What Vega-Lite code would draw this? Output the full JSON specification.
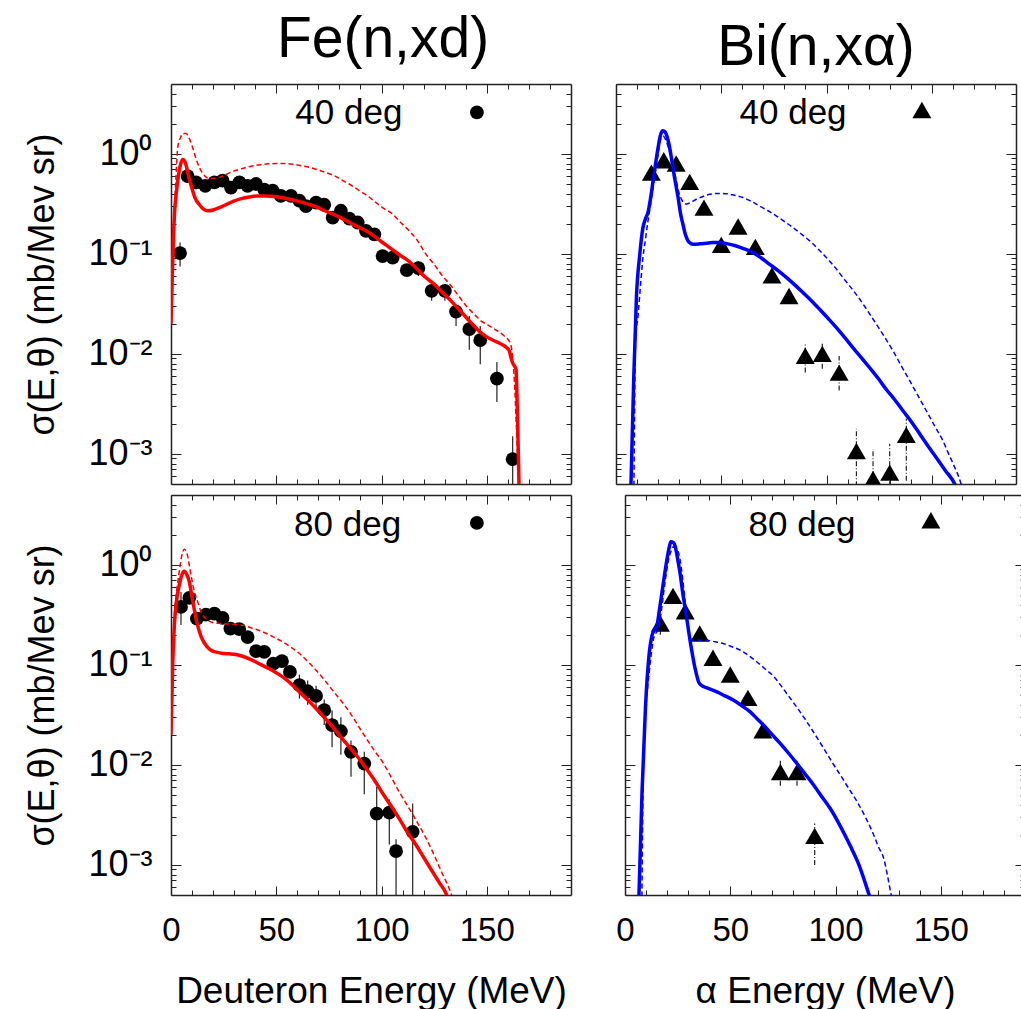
{
 "$schema": "https://vega.github.io/schema/vega-lite/v6.json",
 "padding": {"left": 24, "top": 10, "right": 0, "bottom": 0},
 "background": "white",
 "config": {
  "font": "Liberation Sans",
  "view": {"stroke": null},
  "axis": {"grid": false, "domainColor": "#222", "domainWidth": 1.5, "tickColor": "#222", "tickWidth": 1, "labelColor": "#000", "titleColor": "#000", "labelFont": "Liberation Sans", "titleFont": "Liberation Sans", "titleFontWeight": "normal", "labelOverlap": false, "labelFlush": false}
 },
 "datasets": {
  "keys": [
   {"p": "fe40", "t": "40 deg", "E": 84.5, "v": 2.57, "mE": 145.3, "mv": 2.6},
   {"p": "bi40", "t": "40 deg", "E": 84.1, "v": 2.57, "mE": 145.3, "mv": 2.75},
   {"p": "fe80", "t": "80 deg", "E": 83.9, "v": 2.51, "mE": 145.3, "mv": 2.63},
   {"p": "bi80", "t": "80 deg", "E": 84.1, "v": 2.51, "mE": 145.3, "mv": 2.8}
  ],
  "fe40s": [
   {"E":0,"v":0.02},{"E":0.6,"v":0.06},{"E":1.2,"v":0.15},{"E":1.8,"v":0.28},{"E":2.6,"v":0.42},{"E":3.5,"v":0.6},{"E":4.5,"v":0.78},{"E":5.5,"v":0.88},{"E":6.5,"v":0.85},{"E":7.5,"v":0.72},{"E":8.5,"v":0.58},{"E":10,"v":0.45},{"E":11.5,"v":0.36},{"E":13.5,"v":0.31},{"E":15.5,"v":0.28},{"E":17.5,"v":0.27},{"E":20,"v":0.275},{"E":23,"v":0.29},{"E":26,"v":0.31},{"E":29.5,"v":0.335},{"E":33,"v":0.355},{"E":37,"v":0.37},{"E":41,"v":0.38},{"E":45,"v":0.38},{"E":49,"v":0.375},{"E":53,"v":0.365},{"E":57,"v":0.35},{"E":61,"v":0.333},{"E":65,"v":0.315},{"E":69,"v":0.295},{"E":73,"v":0.27},{"E":77,"v":0.25},{"E":81,"v":0.228},{"E":85,"v":0.205},{"E":89,"v":0.186},{"E":93,"v":0.168},{"E":97,"v":0.148},{"E":100.5,"v":0.13},{"E":104.5,"v":0.113},{"E":108.5,"v":0.098},{"E":112.5,"v":0.086},{"E":116.5,"v":0.072},{"E":121,"v":0.058},{"E":125,"v":0.0499},{"E":129,"v":0.041},{"E":133,"v":0.0339},{"E":137,"v":0.0275},{"E":141,"v":0.0222},{"E":144,"v":0.019},{"E":147.2,"v":0.0163},{"E":150,"v":0.0148},{"E":152,"v":0.014},{"E":155,"v":0.0131},{"E":157.6,"v":0.0123},{"E":159.5,"v":0.0115},{"E":160.7,"v":0.0107},{"E":161.5,"v":0.0092},{"E":162.2,"v":0.0082},{"E":163.9,"v":0.007},{"E":164.3,"v":0.004},{"E":164.8,"v":0.0015},{"E":165.4,"v":0.0004}
  ],
  "fe40d": [
   {"E":0,"v":0.02},{"E":0.8,"v":0.08},{"E":1.6,"v":0.25},{"E":2.4,"v":0.6},{"E":3.2,"v":1.16},{"E":4.5,"v":1.45},{"E":5.8,"v":1.6},{"E":7.1,"v":1.6},{"E":8.5,"v":1.45},{"E":10.3,"v":1.15},{"E":12,"v":0.88},{"E":13.5,"v":0.73},{"E":15.5,"v":0.62},{"E":18,"v":0.57},{"E":21,"v":0.57},{"E":24.5,"v":0.6},{"E":28,"v":0.65},{"E":32.4,"v":0.7},{"E":37,"v":0.745},{"E":42,"v":0.776},{"E":46,"v":0.795},{"E":50,"v":0.8},{"E":54,"v":0.8},{"E":58,"v":0.79},{"E":62,"v":0.76},{"E":66,"v":0.73},{"E":70,"v":0.69},{"E":74,"v":0.645},{"E":78,"v":0.6},{"E":82,"v":0.535},{"E":86,"v":0.48},{"E":89.5,"v":0.43},{"E":93.4,"v":0.38},{"E":97.4,"v":0.326},{"E":101,"v":0.285},{"E":105.3,"v":0.25},{"E":109.2,"v":0.205},{"E":113.2,"v":0.17},{"E":117.2,"v":0.135},{"E":121,"v":0.1},{"E":125.1,"v":0.078},{"E":129,"v":0.06},{"E":133,"v":0.048},{"E":137,"v":0.037},{"E":140.9,"v":0.029},{"E":144,"v":0.025},{"E":147.2,"v":0.0214},{"E":150.5,"v":0.0195},{"E":153.6,"v":0.0177},{"E":156,"v":0.0165},{"E":158.3,"v":0.0151},{"E":160,"v":0.014},{"E":161.5,"v":0.0123},{"E":162.3,"v":0.009},{"E":163.1,"v":0.0054},{"E":164,"v":0.002},{"E":165,"v":0.0006},{"E":165.7,"v":0.0003}
  ],
  "fe40x": [
   {"E":4.3,"v":0.102,"lo":0.075,"hi":0.13},{"E":7.9,"v":0.6},{"E":11.9,"v":0.52},{"E":16.3,"v":0.48},{"E":20.6,"v":0.52},{"E":24.5,"v":0.54},{"E":28.5,"v":0.46},{"E":32.5,"v":0.52},{"E":36.4,"v":0.48},{"E":40.4,"v":0.5},{"E":44.3,"v":0.44},{"E":48.3,"v":0.43},{"E":52.2,"v":0.38},{"E":57,"v":0.38},{"E":61,"v":0.34},{"E":64.1,"v":0.3},{"E":68.9,"v":0.325},{"E":72.8,"v":0.31},{"E":76.8,"v":0.23},{"E":80.7,"v":0.27},{"E":84.7,"v":0.225},{"E":88.7,"v":0.206},{"E":92.6,"v":0.17},{"E":96.6,"v":0.157},{"E":100.5,"v":0.095},{"E":105.3,"v":0.092},{"E":112,"v":0.0687},{"E":117.5,"v":0.072,"lo":0.06,"hi":0.085},{"E":123.8,"v":0.0427,"lo":0.034,"hi":0.05},{"E":130.1,"v":0.0427,"lo":0.034,"hi":0.05},{"E":135.4,"v":0.0265,"lo":0.019,"hi":0.031},{"E":141.7,"v":0.0177,"lo":0.011,"hi":0.024},{"E":146.9,"v":0.0137,"lo":0.0079,"hi":0.019},{"E":154.8,"v":0.00566,"lo":0.0033,"hi":0.0083},{"E":162.3,"v":0.000885,"lo":0.0003,"hi":0.0015}
  ],
  "bi40s": [
   {"E":7,"v":0.0004},{"E":8.4,"v":0.0054},{"E":9.7,"v":0.037},{"E":11.3,"v":0.099},{"E":12.8,"v":0.183},{"E":14,"v":0.225},{"E":15.2,"v":0.26},{"E":16.5,"v":0.37},{"E":17.6,"v":0.537},{"E":18.8,"v":0.8},{"E":20,"v":1.157},{"E":21,"v":1.5},{"E":22,"v":1.7},{"E":23,"v":1.68},{"E":23.9,"v":1.57},{"E":25,"v":1.3},{"E":26.3,"v":0.918},{"E":27.8,"v":0.58},{"E":29.5,"v":0.366},{"E":30.7,"v":0.25},{"E":31.8,"v":0.198},{"E":33,"v":0.155},{"E":34.2,"v":0.135},{"E":35.5,"v":0.127},{"E":36.6,"v":0.125},{"E":39.7,"v":0.126},{"E":42.9,"v":0.128},{"E":46,"v":0.13},{"E":49.3,"v":0.13},{"E":53,"v":0.126},{"E":57.1,"v":0.12},{"E":61,"v":0.112},{"E":65.1,"v":0.103},{"E":69,"v":0.091},{"E":73,"v":0.0787},{"E":77,"v":0.068},{"E":80.9,"v":0.0582},{"E":84.9,"v":0.049},{"E":88.8,"v":0.041},{"E":92.8,"v":0.034},{"E":96.8,"v":0.0278},{"E":100.7,"v":0.0227},{"E":104.6,"v":0.0184},{"E":108.6,"v":0.0146},{"E":112.6,"v":0.0115},{"E":116.5,"v":0.0092},{"E":120.5,"v":0.00727},{"E":124.5,"v":0.0057},{"E":128.4,"v":0.0044},{"E":132.3,"v":0.0035},{"E":136.3,"v":0.0027},{"E":140.3,"v":0.0021},{"E":144.3,"v":0.00158},{"E":148.2,"v":0.0012},{"E":152.1,"v":0.00092},{"E":156.5,"v":0.00068},{"E":160.9,"v":0.0005},{"E":162,"v":0.00044}
  ],
  "bi40d": [
   {"E":8.5,"v":0.0004},{"E":9.3,"v":0.0135},{"E":10.5,"v":0.0247},{"E":11.7,"v":0.05},{"E":12.8,"v":0.092},{"E":14,"v":0.14},{"E":15.2,"v":0.214},{"E":16.4,"v":0.31},{"E":17.6,"v":0.46},{"E":18.8,"v":0.68},{"E":20,"v":0.99},{"E":21.5,"v":1.455},{"E":22.5,"v":1.5},{"E":23.8,"v":1.35},{"E":25.5,"v":1.05},{"E":27.1,"v":0.79},{"E":28.5,"v":0.56},{"E":29.9,"v":0.41},{"E":31.5,"v":0.34},{"E":33.4,"v":0.315},{"E":35.8,"v":0.33},{"E":38.2,"v":0.352},{"E":41.3,"v":0.375},{"E":44.5,"v":0.395},{"E":48.5,"v":0.402},{"E":52.4,"v":0.4},{"E":56.3,"v":0.385},{"E":60.3,"v":0.366},{"E":64.3,"v":0.335},{"E":68.3,"v":0.3},{"E":72.2,"v":0.27},{"E":76.1,"v":0.24},{"E":80.1,"v":0.21},{"E":84.1,"v":0.183},{"E":88,"v":0.158},{"E":92,"v":0.135},{"E":96,"v":0.112},{"E":99.9,"v":0.092},{"E":103.9,"v":0.074},{"E":107.8,"v":0.058},{"E":111.8,"v":0.0455},{"E":115.8,"v":0.0352},{"E":119.7,"v":0.0266},{"E":123.6,"v":0.0199},{"E":127.6,"v":0.0147},{"E":131.6,"v":0.0107},{"E":135.5,"v":0.0076},{"E":139.5,"v":0.0054},{"E":143.5,"v":0.0038},{"E":147.4,"v":0.0027},{"E":151.4,"v":0.0019},{"E":155.3,"v":0.00135},{"E":158,"v":0.001},{"E":160.1,"v":0.0008},{"E":163.9,"v":0.0005},{"E":164.5,"v":0.00045}
  ],
  "bi40x": [
   {"E":16.8,"v":0.65},{"E":22.7,"v":0.865},{"E":28.6,"v":0.8},{"E":35,"v":0.525},{"E":41.8,"v":0.29},{"E":50,"v":0.123},{"E":58,"v":0.188},{"E":66.2,"v":0.1175},{"E":74.1,"v":0.061},{"E":82.2,"v":0.038},{"E":89.9,"v":0.0096,"lo":0.0065,"hi":0.013},{"E":98,"v":0.01,"lo":0.0071,"hi":0.013},{"E":106,"v":0.0065,"lo":0.0043,"hi":0.0095},{"E":114.2,"v":0.00107,"lo":0.0003,"hi":0.00178},{"E":122.1,"v":0.00056,"lo":0.0003,"hi":0.00112},{"E":130,"v":0.00065,"lo":0.0003,"hi":0.00126},{"E":137.9,"v":0.00155,"lo":0.00054,"hi":0.00224}
  ],
  "fe80s": [
   {"E":0,"v":0.02},{"E":0.8,"v":0.1},{"E":1.6,"v":0.249},{"E":2.7,"v":0.45},{"E":3.9,"v":0.626},{"E":5,"v":0.78},{"E":6.3,"v":0.865},{"E":7.5,"v":0.8},{"E":8.7,"v":0.676},{"E":10.2,"v":0.45},{"E":11.9,"v":0.29},{"E":13.5,"v":0.215},{"E":15.1,"v":0.176},{"E":17,"v":0.153},{"E":19,"v":0.14},{"E":21.5,"v":0.134},{"E":24.6,"v":0.13},{"E":27.8,"v":0.129},{"E":30.9,"v":0.127},{"E":34,"v":0.122},{"E":37.2,"v":0.115},{"E":41,"v":0.105},{"E":45.1,"v":0.095},{"E":49,"v":0.086},{"E":53,"v":0.0759},{"E":57,"v":0.065},{"E":61,"v":0.0537},{"E":65,"v":0.0445},{"E":68.9,"v":0.0366},{"E":72.8,"v":0.0298},{"E":76.8,"v":0.024},{"E":80.7,"v":0.019},{"E":84.7,"v":0.0151},{"E":88.7,"v":0.012},{"E":92.6,"v":0.0093},{"E":96.5,"v":0.0071},{"E":100.5,"v":0.0052},{"E":104.5,"v":0.0039},{"E":108.4,"v":0.0029},{"E":112.4,"v":0.0021},{"E":116.4,"v":0.00158},{"E":120.3,"v":0.00116},{"E":124.3,"v":0.00085},{"E":127.5,"v":0.00066},{"E":130.6,"v":0.00052},{"E":131.5,"v":0.00046}
  ],
  "fe80d": [
   {"E":0,"v":0.02},{"E":0.8,"v":0.12},{"E":1.6,"v":0.3},{"E":2.7,"v":0.55},{"E":3.9,"v":0.85},{"E":5,"v":1.2},{"E":6.3,"v":1.435},{"E":7.6,"v":1.3},{"E":9.5,"v":0.789},{"E":11,"v":0.55},{"E":12.7,"v":0.427},{"E":14.5,"v":0.33},{"E":16.6,"v":0.29},{"E":20,"v":0.265},{"E":24.5,"v":0.259},{"E":29,"v":0.255},{"E":34,"v":0.249},{"E":38.8,"v":0.232},{"E":43.6,"v":0.214},{"E":48.3,"v":0.192},{"E":53,"v":0.17},{"E":57,"v":0.15},{"E":61,"v":0.13},{"E":65,"v":0.108},{"E":68.9,"v":0.0886},{"E":72.8,"v":0.071},{"E":76.8,"v":0.0556},{"E":80.7,"v":0.044},{"E":84.7,"v":0.034},{"E":88.7,"v":0.025},{"E":92.6,"v":0.0186},{"E":96.5,"v":0.014},{"E":100.5,"v":0.0107},{"E":104.5,"v":0.0076},{"E":108.4,"v":0.00537},{"E":112.4,"v":0.0039},{"E":116.4,"v":0.0028},{"E":120.3,"v":0.002},{"E":124.3,"v":0.00135},{"E":128.5,"v":0.00085},{"E":133,"v":0.00052},{"E":134,"v":0.00045}
  ],
  "fe80x": [
   {"E":4.75,"v":0.38,"lo":0.25,"hi":0.537},{"E":8.7,"v":0.468},{"E":12.3,"v":0.29},{"E":16.6,"v":0.319},{"E":20.6,"v":0.326},{"E":24.5,"v":0.295},{"E":28.2,"v":0.231},{"E":32.4,"v":0.228},{"E":36.4,"v":0.19},{"E":40.4,"v":0.137},{"E":44.3,"v":0.135},{"E":48.6,"v":0.103},{"E":52.7,"v":0.109},{"E":56.5,"v":0.0851},{"E":61,"v":0.0626,"lo":0.046,"hi":0.08},{"E":64.9,"v":0.0545,"lo":0.04,"hi":0.07},{"E":68.9,"v":0.049,"lo":0.037,"hi":0.062},{"E":72.8,"v":0.0352,"lo":0.025,"hi":0.045},{"E":76.5,"v":0.025,"lo":0.015,"hi":0.035},{"E":80.7,"v":0.0217,"lo":0.0126,"hi":0.03},{"E":85.5,"v":0.0135,"lo":0.0076,"hi":0.0175},{"E":91.8,"v":0.0103,"lo":0.0051,"hi":0.0135},{"E":97.7,"v":0.00326,"lo":0.0003,"hi":0.006},{"E":103.7,"v":0.00333,"lo":0.0016,"hi":0.0045},{"E":106.9,"v":0.00137,"lo":0.0003,"hi":0.0018},{"E":114.8,"v":0.00214,"lo":0.0003,"hi":0.0041}
  ],
  "bi80s": [
   {"E":6.5,"v":0.0004},{"E":8.1,"v":0.0054},{"E":9.7,"v":0.0367},{"E":11.3,"v":0.118},{"E":12.8,"v":0.196},{"E":14,"v":0.225},{"E":15.2,"v":0.249},{"E":16.4,"v":0.36},{"E":17.6,"v":0.537},{"E":18.8,"v":0.8},{"E":20,"v":1.157},{"E":21,"v":1.5},{"E":21.8,"v":1.7},{"E":22.9,"v":1.68},{"E":23.9,"v":1.51},{"E":25,"v":1.15},{"E":26.3,"v":0.789},{"E":27.4,"v":0.53},{"E":28.6,"v":0.366},{"E":29.8,"v":0.25},{"E":31,"v":0.17},{"E":32.3,"v":0.118},{"E":33.4,"v":0.09},{"E":35,"v":0.0673},{"E":36.5,"v":0.062},{"E":38.9,"v":0.0589},{"E":43.7,"v":0.0537},{"E":47.5,"v":0.049},{"E":51.6,"v":0.0443},{"E":55.5,"v":0.039},{"E":59.5,"v":0.0339},{"E":62.7,"v":0.029},{"E":65.9,"v":0.0249},{"E":69.8,"v":0.0202},{"E":73.8,"v":0.0163},{"E":77.8,"v":0.013},{"E":81.7,"v":0.0103},{"E":85.6,"v":0.0081},{"E":89.6,"v":0.0063},{"E":93.5,"v":0.0048},{"E":97.5,"v":0.00366},{"E":102,"v":0.0025},{"E":107,"v":0.00155},{"E":111.3,"v":0.00098},{"E":115.7,"v":0.00052},{"E":116.5,"v":0.00046}
  ],
  "bi80d": [
   {"E":8,"v":0.0004},{"E":8.9,"v":0.0152},{"E":10,"v":0.04},{"E":11.3,"v":0.0768},{"E":12.5,"v":0.13},{"E":13.6,"v":0.184},{"E":14.8,"v":0.21},{"E":16,"v":0.23},{"E":17.2,"v":0.34},{"E":18.4,"v":0.537},{"E":19.6,"v":0.82},{"E":20.8,"v":1.157},{"E":22,"v":1.4},{"E":22.8,"v":1.51},{"E":24,"v":1.48},{"E":25.5,"v":1.3},{"E":26.7,"v":0.95},{"E":27.9,"v":0.58},{"E":29.1,"v":0.33},{"E":30.3,"v":0.214},{"E":31.8,"v":0.176},{"E":35,"v":0.176},{"E":38.9,"v":0.176},{"E":42.9,"v":0.17},{"E":46.9,"v":0.163},{"E":50.8,"v":0.152},{"E":54.8,"v":0.14},{"E":58.8,"v":0.124},{"E":62.7,"v":0.107},{"E":66.6,"v":0.091},{"E":70.6,"v":0.0768},{"E":74.6,"v":0.06},{"E":78.5,"v":0.0464},{"E":82.5,"v":0.0355},{"E":86.4,"v":0.0269},{"E":90.4,"v":0.0199},{"E":94.4,"v":0.0146},{"E":98.3,"v":0.0107},{"E":102.3,"v":0.0079},{"E":106.3,"v":0.0058},{"E":110.2,"v":0.0043},{"E":114.2,"v":0.003},{"E":118.1,"v":0.002},{"E":120.5,"v":0.0015},{"E":122.9,"v":0.00116},{"E":124.6,"v":0.0008},{"E":126.3,"v":0.00052},{"E":127,"v":0.00045}
  ],
  "bi80x": [
   {"E":16.8,"v":0.259,"lo":0.2,"hi":0.32},{"E":22.8,"v":0.49},{"E":28.6,"v":0.344},{"E":35.5,"v":0.206},{"E":41.8,"v":0.118},{"E":50,"v":0.08},{"E":58.4,"v":0.0468},{"E":65.5,"v":0.0222},{"E":73.8,"v":0.0085,"lo":0.0062,"hi":0.011},{"E":81.7,"v":0.0085,"lo":0.0062,"hi":0.011},{"E":90.1,"v":0.00195,"lo":0.001,"hi":0.0026}
  ]
 },
 "spacing": -12,
 "vconcat": [
  {"spacing": 43, "hconcat": [
   {"width": 400, "height": 400,
    "title": {"text": "Fe(n,xd)", "fontSize": 57, "fontWeight": "normal", "font": "Liberation Sans", "anchor": "middle", "baseline": "alphabetic", "offset": -38, "dx": 12, "color": "#000"},
    "layer": [
     {"data": {"name": "fe40x"}, "transform": [{"filter": "isValid(datum.lo)"}],
      "mark": {"type": "rule", "color": "#222", "strokeWidth": 1.2, "clip": true},
      "encoding": {
       "x": {"field": "E", "type": "quantitative", "scale": {"domain": [0, 190], "nice": false, "zero": false},
        "axis": {"orient": "bottom", "values": [0,10,20,30,40,50,60,70,80,90,100,110,120,130,140,150,160,170,180], "tickSize": {"condition": {"test": "datum.value % 50 == 0", "value": -9}, "value": -5}, "labels": false, "title": null}},
       "y": {"field": "lo", "type": "quantitative", "scale": {"type": "log", "domain": [0.0005, 5], "nice": false},
        "axis": {"orient": "left", "values": [0.0006,0.0007,0.0008,0.0009,0.001,0.002,0.003,0.004,0.005,0.006,0.007,0.008,0.009,0.01,0.02,0.03,0.04,0.05,0.06,0.07,0.08,0.09,0.1,0.2,0.3,0.4,0.5,0.6,0.7,0.8,0.9,1,2,3,4], "tickSize": {"condition": {"test": "abs(log(datum.value)/LN10 - round(log(datum.value)/LN10)) < 0.001", "value": -10}, "value": -5}, "labelExpr": "datum.value == 1 ? '10⁰' : datum.value == 0.1 ? '10⁻¹' : datum.value == 0.01 ? '10⁻²' : datum.value == 0.001 ? '10⁻³' : ''", "labelFontSize": 36, "labelPadding": 29, "title": "σ(E,θ) (mb/Mev sr)", "titleFontSize": 36, "titlePadding": 26}},
       "y2": {"field": "hi"}}},
     {"data": {"name": "fe40x"},
      "mark": {"type": "point", "shape": "circle", "filled": true, "color": "#000", "opacity": 1, "size": 190, "clip": true},
      "encoding": {
       "x": {"field": "E", "type": "quantitative", "scale": {"domain": [0, 190], "nice": false, "zero": false},
        "axis": {"orient": "top", "values": [0,10,20,30,40,50,60,70,80,90,100,110,120,130,140,150,160,170,180], "tickSize": {"condition": {"test": "datum.value % 50 == 0", "value": -9}, "value": -5}, "labels": false, "title": null}},
       "y": {"field": "v", "type": "quantitative", "scale": {"type": "log", "domain": [0.0005, 5], "nice": false},
        "axis": {"orient": "right", "values": [0.0006,0.0007,0.0008,0.0009,0.001,0.002,0.003,0.004,0.005,0.006,0.007,0.008,0.009,0.01,0.02,0.03,0.04,0.05,0.06,0.07,0.08,0.09,0.1,0.2,0.3,0.4,0.5,0.6,0.7,0.8,0.9,1,2,3,4], "tickSize": {"condition": {"test": "abs(log(datum.value)/LN10 - round(log(datum.value)/LN10)) < 0.001", "value": -10}, "value": -5}, "labels": false, "title": null}}}},
     {"data": {"name": "fe40d"},
      "mark": {"type": "line", "color": "#ff0000", "strokeWidth": 1.5, "strokeDash": [5, 3], "clip": true, "interpolate": "monotone"},
      "encoding": {
       "x": {"field": "E", "type": "quantitative", "scale": {"domain": [0, 190], "nice": false, "zero": false}, "axis": null},
       "y": {"field": "v", "type": "quantitative", "scale": {"type": "log", "domain": [0.0005, 5], "nice": false}, "axis": null}}},
     {"data": {"name": "fe40s"},
      "mark": {"type": "line", "color": "#ff0000", "strokeWidth": 3.5, "clip": true, "interpolate": "monotone"},
      "encoding": {
       "x": {"field": "E", "type": "quantitative", "scale": {"domain": [0, 190], "nice": false, "zero": false}, "axis": null},
       "y": {"field": "v", "type": "quantitative", "scale": {"type": "log", "domain": [0.0005, 5], "nice": false}, "axis": null}}},
     {"data": {"name": "keys"}, "transform": [{"filter": "datum.p == 'fe40'"}],
      "mark": {"type": "text", "fontSize": 35, "align": "center", "baseline": "middle", "color": "#000"},
      "encoding": {
       "x": {"field": "E", "type": "quantitative", "scale": {"domain": [0, 190], "nice": false, "zero": false}, "axis": null},
       "y": {"field": "v", "type": "quantitative", "scale": {"type": "log", "domain": [0.0005, 5], "nice": false}, "axis": null},
       "text": {"field": "t"}}},
     {"data": {"name": "keys"}, "transform": [{"filter": "datum.p == 'fe40'"}],
      "mark": {"type": "point", "shape": "circle", "filled": true, "color": "#000", "opacity": 1, "size": 190},
      "encoding": {
       "x": {"field": "mE", "type": "quantitative", "scale": {"domain": [0, 190], "nice": false, "zero": false}, "axis": null},
       "y": {"field": "mv", "type": "quantitative", "scale": {"type": "log", "domain": [0.0005, 5], "nice": false}, "axis": null}}}
    ],
    "resolve": {"axis": {"x": "independent", "y": "independent"}}
   },
   {"width": 400, "height": 400,
    "title": {"text": "Bi(n,xα)", "fontSize": 57, "fontWeight": "normal", "font": "Liberation Sans", "anchor": "middle", "baseline": "alphabetic", "offset": -38, "dx": 0, "color": "#000"},
    "layer": [
     {"data": {"name": "bi40x"}, "transform": [{"filter": "isValid(datum.lo)"}],
      "mark": {"type": "rule", "color": "#222", "strokeWidth": 1.2, "strokeDash": [5, 2, 1, 2], "clip": true},
      "encoding": {
       "x": {"field": "E", "type": "quantitative", "scale": {"domain": [0, 190], "nice": false, "zero": false},
        "axis": {"orient": "bottom", "values": [0,10,20,30,40,50,60,70,80,90,100,110,120,130,140,150,160,170,180], "tickSize": {"condition": {"test": "datum.value % 50 == 0", "value": -9}, "value": -5}, "labels": false, "title": null}},
       "y": {"field": "lo", "type": "quantitative", "scale": {"type": "log", "domain": [0.0005, 5], "nice": false},
        "axis": {"orient": "left", "values": [0.0006,0.0007,0.0008,0.0009,0.001,0.002,0.003,0.004,0.005,0.006,0.007,0.008,0.009,0.01,0.02,0.03,0.04,0.05,0.06,0.07,0.08,0.09,0.1,0.2,0.3,0.4,0.5,0.6,0.7,0.8,0.9,1,2,3,4], "tickSize": {"condition": {"test": "abs(log(datum.value)/LN10 - round(log(datum.value)/LN10)) < 0.001", "value": -10}, "value": -5}, "labels": false, "title": null}},
       "y2": {"field": "hi"}}},
     {"data": {"name": "bi40x"},
      "mark": {"type": "point", "shape": "triangle-up", "filled": true, "color": "#000", "opacity": 1, "size": 360, "clip": true},
      "encoding": {
       "x": {"field": "E", "type": "quantitative", "scale": {"domain": [0, 190], "nice": false, "zero": false},
        "axis": {"orient": "top", "values": [0,10,20,30,40,50,60,70,80,90,100,110,120,130,140,150,160,170,180], "tickSize": {"condition": {"test": "datum.value % 50 == 0", "value": -9}, "value": -5}, "labels": false, "title": null}},
       "y": {"field": "v", "type": "quantitative", "scale": {"type": "log", "domain": [0.0005, 5], "nice": false},
        "axis": {"orient": "right", "values": [0.0006,0.0007,0.0008,0.0009,0.001,0.002,0.003,0.004,0.005,0.006,0.007,0.008,0.009,0.01,0.02,0.03,0.04,0.05,0.06,0.07,0.08,0.09,0.1,0.2,0.3,0.4,0.5,0.6,0.7,0.8,0.9,1,2,3,4], "tickSize": {"condition": {"test": "abs(log(datum.value)/LN10 - round(log(datum.value)/LN10)) < 0.001", "value": -10}, "value": -5}, "labels": false, "title": null}}}},
     {"data": {"name": "bi40d"},
      "mark": {"type": "line", "color": "#0000ff", "strokeWidth": 1.5, "strokeDash": [5, 3], "clip": true, "interpolate": "monotone"},
      "encoding": {
       "x": {"field": "E", "type": "quantitative", "scale": {"domain": [0, 190], "nice": false, "zero": false}, "axis": null},
       "y": {"field": "v", "type": "quantitative", "scale": {"type": "log", "domain": [0.0005, 5], "nice": false}, "axis": null}}},
     {"data": {"name": "bi40s"},
      "mark": {"type": "line", "color": "#0000ff", "strokeWidth": 3.5, "clip": true, "interpolate": "monotone"},
      "encoding": {
       "x": {"field": "E", "type": "quantitative", "scale": {"domain": [0, 190], "nice": false, "zero": false}, "axis": null},
       "y": {"field": "v", "type": "quantitative", "scale": {"type": "log", "domain": [0.0005, 5], "nice": false}, "axis": null}}},
     {"data": {"name": "keys"}, "transform": [{"filter": "datum.p == 'bi40'"}],
      "mark": {"type": "text", "fontSize": 35, "align": "center", "baseline": "middle", "color": "#000"},
      "encoding": {
       "x": {"field": "E", "type": "quantitative", "scale": {"domain": [0, 190], "nice": false, "zero": false}, "axis": null},
       "y": {"field": "v", "type": "quantitative", "scale": {"type": "log", "domain": [0.0005, 5], "nice": false}, "axis": null},
       "text": {"field": "t"}}},
     {"data": {"name": "keys"}, "transform": [{"filter": "datum.p == 'bi40'"}],
      "mark": {"type": "point", "shape": "triangle-up", "filled": true, "color": "#000", "opacity": 1, "size": 360},
      "encoding": {
       "x": {"field": "mE", "type": "quantitative", "scale": {"domain": [0, 190], "nice": false, "zero": false}, "axis": null},
       "y": {"field": "mv", "type": "quantitative", "scale": {"type": "log", "domain": [0.0005, 5], "nice": false}, "axis": null}}}
    ],
    "resolve": {"axis": {"x": "independent", "y": "independent"}}
   }
  ]},
  {"spacing": 43, "hconcat": [
   {"width": 400, "height": 400,
    "layer": [
     {"data": {"name": "fe80x"}, "transform": [{"filter": "isValid(datum.lo)"}],
      "mark": {"type": "rule", "color": "#222", "strokeWidth": 1.2, "clip": true},
      "encoding": {
       "x": {"field": "E", "type": "quantitative", "scale": {"domain": [0, 190], "nice": false, "zero": false},
        "axis": {"orient": "bottom", "values": [0,10,20,30,40,50,60,70,80,90,100,110,120,130,140,150,160,170,180], "tickSize": {"condition": {"test": "datum.value % 50 == 0", "value": -9}, "value": -5}, "labelExpr": "datum.value % 50 == 0 ? datum.label : ''", "labelFontSize": 33, "labelPadding": 28, "title": "Deuteron Energy (MeV)", "titleFontSize": 37, "titlePadding": 22}},
       "y": {"field": "lo", "type": "quantitative", "scale": {"type": "log", "domain": [0.0005, 5], "nice": false},
        "axis": {"orient": "left", "values": [0.0006,0.0007,0.0008,0.0009,0.001,0.002,0.003,0.004,0.005,0.006,0.007,0.008,0.009,0.01,0.02,0.03,0.04,0.05,0.06,0.07,0.08,0.09,0.1,0.2,0.3,0.4,0.5,0.6,0.7,0.8,0.9,1,2,3,4], "tickSize": {"condition": {"test": "abs(log(datum.value)/LN10 - round(log(datum.value)/LN10)) < 0.001", "value": -10}, "value": -5}, "labelExpr": "datum.value == 1 ? '10⁰' : datum.value == 0.1 ? '10⁻¹' : datum.value == 0.01 ? '10⁻²' : datum.value == 0.001 ? '10⁻³' : ''", "labelFontSize": 36, "labelPadding": 29, "title": "σ(E,θ) (mb/Mev sr)", "titleFontSize": 36, "titlePadding": 26}},
       "y2": {"field": "hi"}}},
     {"data": {"name": "fe80x"},
      "mark": {"type": "point", "shape": "circle", "filled": true, "color": "#000", "opacity": 1, "size": 190, "clip": true},
      "encoding": {
       "x": {"field": "E", "type": "quantitative", "scale": {"domain": [0, 190], "nice": false, "zero": false},
        "axis": {"orient": "top", "values": [0,10,20,30,40,50,60,70,80,90,100,110,120,130,140,150,160,170,180], "tickSize": {"condition": {"test": "datum.value % 50 == 0", "value": -9}, "value": -5}, "labels": false, "title": null}},
       "y": {"field": "v", "type": "quantitative", "scale": {"type": "log", "domain": [0.0005, 5], "nice": false},
        "axis": {"orient": "right", "values": [0.0006,0.0007,0.0008,0.0009,0.001,0.002,0.003,0.004,0.005,0.006,0.007,0.008,0.009,0.01,0.02,0.03,0.04,0.05,0.06,0.07,0.08,0.09,0.1,0.2,0.3,0.4,0.5,0.6,0.7,0.8,0.9,1,2,3,4], "tickSize": {"condition": {"test": "abs(log(datum.value)/LN10 - round(log(datum.value)/LN10)) < 0.001", "value": -10}, "value": -5}, "labels": false, "title": null}}}},
     {"data": {"name": "fe80d"},
      "mark": {"type": "line", "color": "#ff0000", "strokeWidth": 1.5, "strokeDash": [5, 3], "clip": true, "interpolate": "monotone"},
      "encoding": {
       "x": {"field": "E", "type": "quantitative", "scale": {"domain": [0, 190], "nice": false, "zero": false}, "axis": null},
       "y": {"field": "v", "type": "quantitative", "scale": {"type": "log", "domain": [0.0005, 5], "nice": false}, "axis": null}}},
     {"data": {"name": "fe80s"},
      "mark": {"type": "line", "color": "#ff0000", "strokeWidth": 3.5, "clip": true, "interpolate": "monotone"},
      "encoding": {
       "x": {"field": "E", "type": "quantitative", "scale": {"domain": [0, 190], "nice": false, "zero": false}, "axis": null},
       "y": {"field": "v", "type": "quantitative", "scale": {"type": "log", "domain": [0.0005, 5], "nice": false}, "axis": null}}},
     {"data": {"name": "keys"}, "transform": [{"filter": "datum.p == 'fe80'"}],
      "mark": {"type": "text", "fontSize": 35, "align": "center", "baseline": "middle", "color": "#000"},
      "encoding": {
       "x": {"field": "E", "type": "quantitative", "scale": {"domain": [0, 190], "nice": false, "zero": false}, "axis": null},
       "y": {"field": "v", "type": "quantitative", "scale": {"type": "log", "domain": [0.0005, 5], "nice": false}, "axis": null},
       "text": {"field": "t"}}},
     {"data": {"name": "keys"}, "transform": [{"filter": "datum.p == 'fe80'"}],
      "mark": {"type": "point", "shape": "circle", "filled": true, "color": "#000", "opacity": 1, "size": 190},
      "encoding": {
       "x": {"field": "mE", "type": "quantitative", "scale": {"domain": [0, 190], "nice": false, "zero": false}, "axis": null},
       "y": {"field": "mv", "type": "quantitative", "scale": {"type": "log", "domain": [0.0005, 5], "nice": false}, "axis": null}}}
    ],
    "resolve": {"axis": {"x": "independent", "y": "independent"}}
   },
   {"width": 400, "height": 400,
    "layer": [
     {"data": {"name": "bi80x"}, "transform": [{"filter": "isValid(datum.lo)"}],
      "mark": {"type": "rule", "color": "#222", "strokeWidth": 1.2, "strokeDash": [5, 2, 1, 2], "clip": true},
      "encoding": {
       "x": {"field": "E", "type": "quantitative", "scale": {"domain": [0, 190], "nice": false, "zero": false},
        "axis": {"orient": "bottom", "values": [0,10,20,30,40,50,60,70,80,90,100,110,120,130,140,150,160,170,180], "tickSize": {"condition": {"test": "datum.value % 50 == 0", "value": -9}, "value": -5}, "labelExpr": "datum.value % 50 == 0 ? datum.label : ''", "labelFontSize": 33, "labelPadding": 28, "title": "α Energy (MeV)", "titleFontSize": 37, "titlePadding": 22}},
       "y": {"field": "lo", "type": "quantitative", "scale": {"type": "log", "domain": [0.0005, 5], "nice": false},
        "axis": {"orient": "left", "values": [0.0006,0.0007,0.0008,0.0009,0.001,0.002,0.003,0.004,0.005,0.006,0.007,0.008,0.009,0.01,0.02,0.03,0.04,0.05,0.06,0.07,0.08,0.09,0.1,0.2,0.3,0.4,0.5,0.6,0.7,0.8,0.9,1,2,3,4], "tickSize": {"condition": {"test": "abs(log(datum.value)/LN10 - round(log(datum.value)/LN10)) < 0.001", "value": -10}, "value": -5}, "labels": false, "title": null}},
       "y2": {"field": "hi"}}},
     {"data": {"name": "bi80x"},
      "mark": {"type": "point", "shape": "triangle-up", "filled": true, "color": "#000", "opacity": 1, "size": 360, "clip": true},
      "encoding": {
       "x": {"field": "E", "type": "quantitative", "scale": {"domain": [0, 190], "nice": false, "zero": false},
        "axis": {"orient": "top", "values": [0,10,20,30,40,50,60,70,80,90,100,110,120,130,140,150,160,170,180], "tickSize": {"condition": {"test": "datum.value % 50 == 0", "value": -9}, "value": -5}, "labels": false, "title": null}},
       "y": {"field": "v", "type": "quantitative", "scale": {"type": "log", "domain": [0.0005, 5], "nice": false},
        "axis": {"orient": "right", "values": [0.0006,0.0007,0.0008,0.0009,0.001,0.002,0.003,0.004,0.005,0.006,0.007,0.008,0.009,0.01,0.02,0.03,0.04,0.05,0.06,0.07,0.08,0.09,0.1,0.2,0.3,0.4,0.5,0.6,0.7,0.8,0.9,1,2,3,4], "tickSize": {"condition": {"test": "abs(log(datum.value)/LN10 - round(log(datum.value)/LN10)) < 0.001", "value": -10}, "value": -5}, "labels": false, "title": null}}}},
     {"data": {"name": "bi80d"},
      "mark": {"type": "line", "color": "#0000ff", "strokeWidth": 1.5, "strokeDash": [5, 3], "clip": true, "interpolate": "monotone"},
      "encoding": {
       "x": {"field": "E", "type": "quantitative", "scale": {"domain": [0, 190], "nice": false, "zero": false}, "axis": null},
       "y": {"field": "v", "type": "quantitative", "scale": {"type": "log", "domain": [0.0005, 5], "nice": false}, "axis": null}}},
     {"data": {"name": "bi80s"},
      "mark": {"type": "line", "color": "#0000ff", "strokeWidth": 3.5, "clip": true, "interpolate": "monotone"},
      "encoding": {
       "x": {"field": "E", "type": "quantitative", "scale": {"domain": [0, 190], "nice": false, "zero": false}, "axis": null},
       "y": {"field": "v", "type": "quantitative", "scale": {"type": "log", "domain": [0.0005, 5], "nice": false}, "axis": null}}},
     {"data": {"name": "keys"}, "transform": [{"filter": "datum.p == 'bi80'"}],
      "mark": {"type": "text", "fontSize": 35, "align": "center", "baseline": "middle", "color": "#000"},
      "encoding": {
       "x": {"field": "E", "type": "quantitative", "scale": {"domain": [0, 190], "nice": false, "zero": false}, "axis": null},
       "y": {"field": "v", "type": "quantitative", "scale": {"type": "log", "domain": [0.0005, 5], "nice": false}, "axis": null},
       "text": {"field": "t"}}},
     {"data": {"name": "keys"}, "transform": [{"filter": "datum.p == 'bi80'"}],
      "mark": {"type": "point", "shape": "triangle-up", "filled": true, "color": "#000", "opacity": 1, "size": 360},
      "encoding": {
       "x": {"field": "mE", "type": "quantitative", "scale": {"domain": [0, 190], "nice": false, "zero": false}, "axis": null},
       "y": {"field": "mv", "type": "quantitative", "scale": {"type": "log", "domain": [0.0005, 5], "nice": false}, "axis": null}}}
    ],
    "resolve": {"axis": {"x": "independent", "y": "independent"}}
   }
  ]}
 ]
}
